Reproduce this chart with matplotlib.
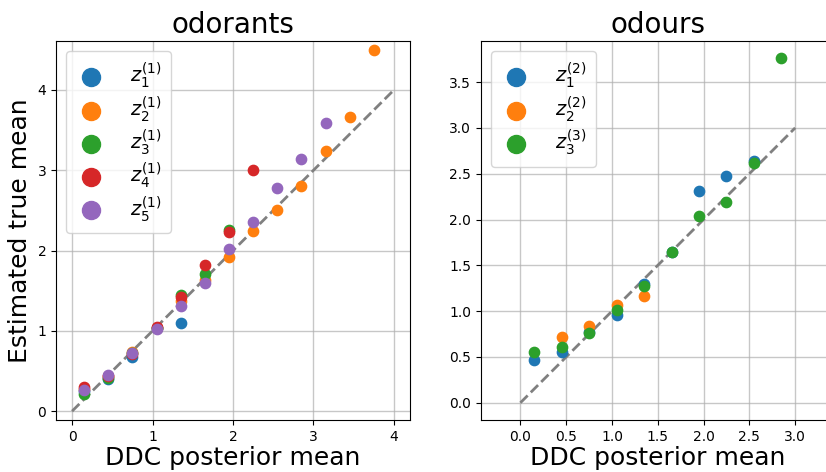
import matplotlib.pyplot as plt
import numpy as np

# bin centres of the DDC posterior mean
bins = [0.15, 0.45, 0.75, 1.05, 1.35, 1.65, 1.95, 2.25, 2.55, 2.85, 3.15, 3.45, 3.75]

# odorants: estimated true mean per latent
odorant_labels = [r'$z_1^{(1)}$', r'$z_2^{(1)}$', r'$z_3^{(1)}$', r'$z_4^{(1)}$', r'$z_5^{(1)}$']
odorant_z1 = [0.25, 0.40, 0.68, 1.03, 1.10]
odorant_z2 = [0.27, 0.44, 0.74, 1.04, 1.37, 1.63, 1.92, 2.24, 2.51, 2.80, 3.24, 3.66, 4.50]
odorant_z3 = [0.22, 0.41, 0.72, 1.04, 1.45, 1.71, 2.26]
odorant_z4 = [0.30, 0.44, 0.71, 1.05, 1.42, 1.82, 2.23, 3.00]
odorant_z5 = [0.26, 0.45, 0.73, 1.02, 1.31, 1.59, 2.02, 2.35, 2.78, 3.14, 3.59]

# odours
odour_labels = [r'$z_1^{(2)}$', r'$z_2^{(2)}$', r'$z_3^{(3)}$']
odour_z1 = [0.47, 0.55, 0.77, 0.96, 1.30, 1.64, 2.31, 2.47, 2.64]
odour_z2_x = [0.45, 0.75, 1.05, 1.35]
odour_z2 = [0.72, 0.84, 1.07, 1.16]
odour_z3 = [0.55, 0.61, 0.76, 1.01, 1.27, 1.64, 2.04, 2.19, 2.62, 3.76]

fig = plt.figure(figsize=(8.26, 4.72), dpi=100)
W, H = 826.0, 472.0
ax1 = fig.add_axes([56 / W, 52 / H, 354 / W, 379 / H])
ax2 = fig.add_axes([481 / W, 52 / H, 354 / W, 379 / H])


def scatter_series(ax, xs, ys, label):
    ax.scatter(xs[:len(ys)], ys, s=55, label=label, zorder=3)


for ys, lab in zip([odorant_z1, odorant_z2, odorant_z3, odorant_z4, odorant_z5], odorant_labels):
    scatter_series(ax1, bins, ys, lab)
ax1.plot([0, 4], [0, 4], '--', color='grey', lw=2, zorder=2)
ax1.set_xlim(-0.2, 4.2)
ax1.set_ylim(-0.11, 4.61)
ax1.set_xticks([0, 1, 2, 3, 4])
ax1.set_yticks([0, 1, 2, 3, 4])
ax1.set_title('odorants', fontsize=20)
ax1.set_xlabel('DDC posterior mean', fontsize=18, labelpad=2)
ax1.set_ylabel('Estimated true mean', fontsize=18, labelpad=4)

scatter_series(ax2, bins, odour_z1, odour_labels[0])
scatter_series(ax2, odour_z2_x, odour_z2, odour_labels[1])
scatter_series(ax2, bins, odour_z3, odour_labels[2])
ax2.plot([0, 3], [0, 3], '--', color='grey', lw=2, zorder=2)
ax2.set_xlim(-0.43, 3.435)
ax2.set_ylim(-0.188, 3.948)
ax2.set_xticks(np.arange(0, 3.01, 0.5))
ax2.set_yticks(np.arange(0, 3.51, 0.5))
ax2.set_title('odours', fontsize=20)
ax2.set_xlabel('DDC posterior mean', fontsize=18, labelpad=2)

for ax in (ax1, ax2):
    ax.grid(True, color='#b0b0b0', lw=1, alpha=0.7, zorder=0)
    ax.set_axisbelow(True)
    ax.tick_params(labelsize=10)
    ax.legend(loc='upper left', fontsize=14, markerscale=1.75, labelspacing=0.18,
              handlelength=1.6, handletextpad=1.2, borderpad=0.5)

fig.savefig('out.png', dpi=100)
